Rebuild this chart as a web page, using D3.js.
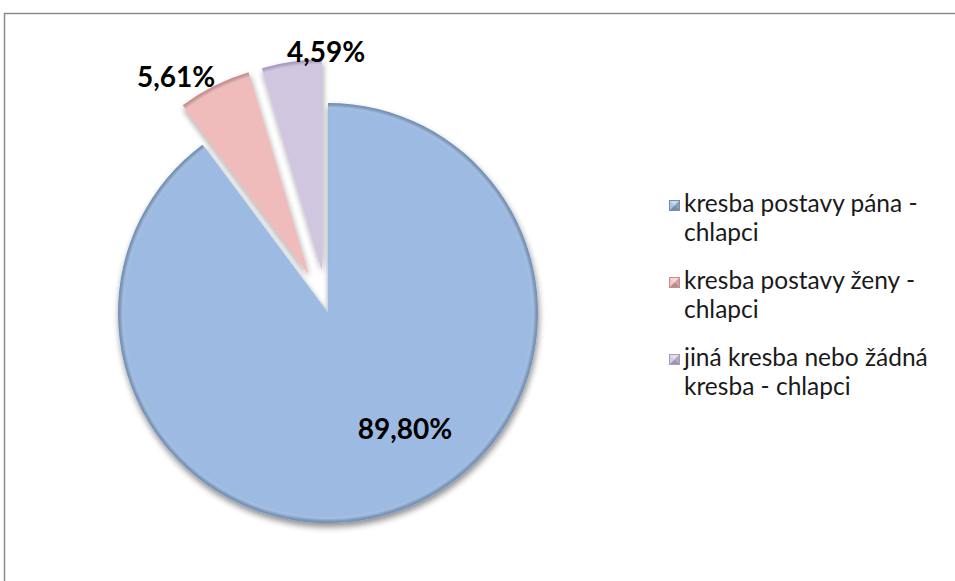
<!DOCTYPE html>
<html>
<head>
<meta charset="utf-8">
<script src="https://cdn.jsdelivr.net/npm/d3@7"></script>
<style>
  html, body { margin: 0; padding: 0; background: #fff; }
  svg { display: block; }
  text { font-family: Lato, "Noto Sans", sans-serif; }
</style>
</head>
<body>
<svg id="chart" width="955" height="581"></svg>
<script>
// Drawing categories and their shares (percent)
const categories = [
  "kresba postavy pána - chlapci",
  "kresba postavy ženy - chlapci",
  "jiná kresba nebo žádná kresba - chlapci"
];
const values = [89.80, 5.61, 4.59];
const valueLabels = ["89,80%", "5,61%", "4,59%"];
const legendLines = [
  ["kresba postavy pána -", "chlapci"],
  ["kresba postavy ženy -", "chlapci"],
  ["jiná kresba nebo žádná", "kresba - chlapci"]
];
const explode = [0, 44, 44];

const fills = ["#9dbbe2", "#efbcbb", "#d0c6e0"];
const edges = ["#6f8fb8", "#c98d8c", "#a69ac0"];

const svg = d3.select("#chart");

// outer frame (right and bottom sides run off the canvas)
svg.append("rect")
  .attr("x", 4.5).attr("y", 13.5)
  .attr("width", 1000).attr("height", 700)
  .attr("fill", "none").attr("stroke", "#8c8c8c").attr("stroke-width", 1.5);

const defs = svg.append("defs");
const shadow = defs.append("filter").attr("id", "shadow")
  .attr("x", "-20%").attr("y", "-20%").attr("width", "140%").attr("height", "140%");
shadow.append("feGaussianBlur").attr("in", "SourceAlpha").attr("stdDeviation", 3).attr("result", "b");
shadow.append("feOffset").attr("in", "b").attr("dx", 1).attr("dy", 4).attr("result", "o");
shadow.append("feComponentTransfer").attr("in", "o").attr("result", "s")
  .append("feFuncA").attr("type", "linear").attr("slope", 0.45);
const merge = shadow.append("feMerge");
merge.append("feMergeNode").attr("in", "s");
merge.append("feMergeNode").attr("in", "SourceGraphic");

const soften = defs.append("filter").attr("id", "soften");
soften.append("feGaussianBlur").attr("stdDeviation", 1.6);

const cx = 328, cy = 313, R = 210;

const pie = d3.pie().sort(null).value(d => d)(values);
const arc = d3.arc().innerRadius(0).outerRadius(R);
const arcInner = d3.arc().innerRadius(0).outerRadius(R - 4);

const g = svg.append("g").attr("transform", `translate(${cx},${cy})`);

const slices = g.selectAll("g.slice").data(pie).enter().append("g")
  .attr("class", "slice")
  .attr("transform", (d, i) => {
    const a = (d.startAngle + d.endAngle) / 2;
    return `translate(${Math.sin(a) * explode[i]},${-Math.cos(a) * explode[i]})`;
  });

slices.append("path")
  .attr("d", arc)
  .attr("fill", (d, i) => edges[i])
  .attr("filter", "url(#shadow)");

// lighter body with a soft bevelled rim
slices.append("path")
  .attr("d", arcInner)
  .attr("fill", (d, i) => fills[i])
  .attr("stroke", "#ffffff")
  .attr("stroke-opacity", 0.35)
  .attr("stroke-width", 2)
  .attr("filter", "url(#soften)");
slices.append("path")
  .attr("d", d3.arc().innerRadius(0).outerRadius(R - 6))
  .attr("fill", (d, i) => fills[i]);

// value labels
const labelPos = [[405, 428], [176, 76], [326, 51]];
svg.selectAll("text.val").data(valueLabels).enter().append("text")
  .attr("class", "val")
  .attr("x", (d, i) => labelPos[i][0])
  .attr("y", (d, i) => labelPos[i][1])
  .attr("text-anchor", "middle")
  .attr("dominant-baseline", "central")
  .attr("font-size", 28)
  .attr("font-weight", "bold")
  .attr("fill", "#000")
  .text(d => d);

// legend
const leg = svg.append("g").attr("transform", "translate(669,0)");
const rows = [212, 289, 366];
const legendFont = 24.5;
legendLines.forEach((lines, i) => {
  const y0 = rows[i];
  const s = 11, x = 0, y = y0 - 12;
  const m = leg.append("g");
  m.append("rect").attr("x", x).attr("y", y).attr("width", s).attr("height", s).attr("fill", fills[i]);
  // pyramid-style shading of the marker
  const c = [x + s / 2, y + s / 2];
  const tri = (pts, col, op) => m.append("polygon").attr("points", pts.map(p => p.join(",")).join(" "))
    .attr("fill", col).attr("opacity", op);
  tri([[x, y], [x + s, y], c], "#ffffff", 0.45);
  tri([[x + s, y], [x + s, y + s], c], "#000000", 0.15);
  tri([[x, y + s], [x + s, y + s], c], "#000000", 0.25);
  tri([[x, y], [x, y + s], c], "#ffffff", 0.15);
  m.append("rect").attr("x", x + 0.5).attr("y", y + 0.5).attr("width", s - 1).attr("height", s - 1)
    .attr("fill", "none").attr("stroke", edges[i]).attr("stroke-width", 1);
  lines.forEach((t, j) => {
    leg.append("text")
      .attr("x", 15).attr("y", y0 + j * 29)
      .attr("font-size", legendFont)
      .attr("fill", "#1a1a1a")
      .text(t);
  });
});
</script>
</body>
</html>
